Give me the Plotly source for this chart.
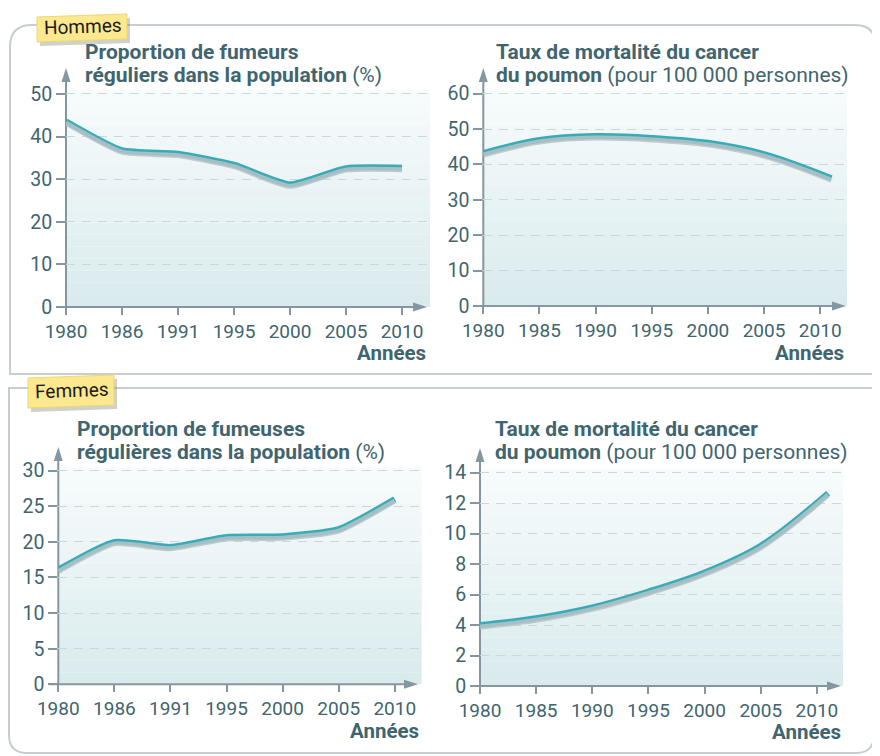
import plotly.graph_objects as go

# page body has an 8px margin: the figure covers viewport pixels 8..880 / 8..756
OFF = 8
W, H = 880 - OFF, 756 - OFF

# ---------------- data ----------------
cat_years = ["1980", "1986", "1991", "1995", "2000", "2005", "2010"]
men_smokers = [43.6, 36.8, 36.0, 33.4, 28.8, 32.6, 32.7]

lin_years = [1980, 1985, 1990, 1995, 2000, 2005, 2011]
men_mortality = [43.2, 46.9, 48.0, 47.5, 46.1, 42.9, 36.1]

women_smokers = [16.1, 20.0, 19.3, 20.7, 20.8, 21.8, 26.0]

women_mortality = [4.0, 4.45, 5.16, 6.2, 7.45, 9.2, 12.65]

men_y_ticks = [0, 10, 20, 30, 40, 50]
men_mort_ticks = [0, 10, 20, 30, 40, 50, 60]
women_y_ticks = [0, 5, 10, 15, 20, 25, 30]
women_mort_ticks = [0, 2, 4, 6, 8, 10, 12, 14]
lin_ticks = [1980, 1985, 1990, 1995, 2000, 2005, 2010]

# ---------------- style ----------------
TEAL = "#38abb9"
SHADOW = "#b9c3c6"
AXIS = "#8497a0"
TXT = "#40656f"
GRID = "#cdd6d9"
FONT = "Roboto"


def px(x):
    return (x - OFF) / W


def py(y):
    return 1 - (y - OFF) / H


def path(cmds):
    s = ""
    for c in cmds:
        if c[0] in ("M", "L"):
            s += f"{c[0]} {px(c[1]):.5f},{py(c[2]):.5f} "
        elif c[0] == "Q":
            s += f"Q {px(c[1]):.5f},{py(c[2]):.5f} {px(c[3]):.5f},{py(c[4]):.5f} "
        elif c[0] == "Z":
            s += "Z"
    return s


fig = go.Figure()
shapes = []
annotations = []

# panel definitions in reference pixel space (layout only)
panels = [
    dict(ax="", xdom=(66, 430), ydom=(307, 89.7), yr=(0, 51), ppu=4.26,
         origin=(66, 307), ytip=68, xtip=427),
    dict(ax="2", xdom=(483.3, 847), ydom=(306, 90.1), yr=(0, 61), ppu=3.54,
         origin=(483.3, 306), ytip=68, xtip=846),
    dict(ax="3", xdom=(58.3, 421.7), ydom=(684.3, 467.1), yr=(0, 30.5), ppu=7.12,
         origin=(58.3, 684.3), ytip=447, xtip=418),
    dict(ax="4", xdom=(480, 843), ydom=(686, 468.8), yr=(0, 14.25), ppu=15.24,
         origin=(480, 686), ytip=448, xtip=841),
]

series = [
    (cat_years, men_smokers, men_y_ticks, True, 0.55),
    (lin_years, men_mortality, men_mort_ticks, False, 1.0),
    (cat_years, women_smokers, women_y_ticks, True, 0.55),
    (lin_years, women_mortality, women_mort_ticks, False, 1.0),
]

for i, (p, (xs, ys, yt, is_cat, smooth)) in enumerate(zip(panels, series)):
    a = p["ax"]
    xa = "xaxis" + a
    ya = "yaxis" + a
    xid = "x" + a
    yid = "y" + a
    sh_ax_num = 5 + i
    sh_ya = f"yaxis{sh_ax_num}"
    sh_yid = f"y{sh_ax_num}"

    off = 2.0 / p["ppu"]  # shadow 2 px lower
    xdom = [px(p["xdom"][0]), px(p["xdom"][1])]
    ydom = [py(p["ydom"][0]), py(p["ydom"][1])]

    if is_cat:
        xcfg = dict(type="category", range=[0, 6.48 if i == 2 else 6.5],
                    categoryorder="array", categoryarray=cat_years)
    else:
        xcfg = dict(type="linear", range=[1980, 1980 + (p["xdom"][1] - p["xdom"][0]) / 11.23],
                    tickvals=lin_ticks)
    xcfg.update(domain=xdom, anchor=yid, showgrid=False, zeroline=False, showline=False,
                ticks="outside", ticklen=7, tickwidth=1.5, tickcolor=AXIS, automargin=False,
                tickfont=dict(family=FONT, size=19, color=TXT), fixedrange=True)
    fig.layout[xa] = xcfg

    fig.layout[ya] = dict(domain=ydom, anchor=xid, range=list(p["yr"]), tickvals=yt,
                          showgrid=True, gridcolor=GRID, gridwidth=1, griddash="9px,7px",
                          zeroline=False, showline=False, ticks="outside", ticklen=9,
                          tickwidth=1.5, tickcolor=AXIS, automargin=False,
                          tickfont=dict(family=FONT, size=19.5, color=TXT), fixedrange=True)
    fig.layout[sh_ya] = dict(overlaying=yid, anchor=xid, automargin=False,
                             range=[p["yr"][0] + off, p["yr"][1] + off], visible=False)

    fig.add_trace(go.Scatter(x=xs, y=ys, xaxis=xid, yaxis=sh_yid, mode="lines",
                             line=dict(color=SHADOW, width=5, shape="spline", smoothing=smooth),
                             hoverinfo="skip", showlegend=False, opacity=0.85))
    fig.add_trace(go.Scatter(x=xs, y=ys, xaxis=xid, yaxis=yid, mode="lines",
                             line=dict(color=TEAL, width=6, shape="spline", smoothing=smooth),
                             showlegend=False))

    # gradient background
    nb = 18
    top_c = (248, 251, 252)
    bot_c = (217, 235, 237)
    for k in range(nb):
        t = (k + 0.5) / nb
        c = tuple(int(round(top_c[j] + (bot_c[j] - top_c[j]) * t)) for j in range(3))
        shapes.append(dict(type="rect", xref=xid + " domain", yref=yid + " domain",
                           x0=0, x1=1, y0=1 - (k + 1) / nb, y1=1 - k / nb,
                           fillcolor=f"rgb{c}", line=dict(width=0), layer="below"))

    ox, oy = p["origin"]
    # y axis line + arrow
    shapes.append(dict(type="line", xref="paper", yref="paper", x0=px(ox), y0=py(oy),
                       x1=px(ox), y1=py(p["ytip"] + 10), line=dict(color=AXIS, width=2),
                       layer="between"))
    shapes.append(dict(type="path", xref="paper", yref="paper",
                       path=path([("M", ox, p["ytip"]), ("L", ox - 4.5, p["ytip"] + 14),
                                  ("L", ox + 4.5, p["ytip"] + 14), ("Z",)]),
                       fillcolor=AXIS, line=dict(width=0), layer="between"))
    # x axis line + arrow
    shapes.append(dict(type="line", xref="paper", yref="paper", x0=px(ox - 9), y0=py(oy),
                       x1=px(p["xtip"] - 10), y1=py(oy), line=dict(color=AXIS, width=2),
                       layer="between"))
    shapes.append(dict(type="path", xref="paper", yref="paper",
                       path=path([("M", p["xtip"], oy), ("L", p["xtip"] - 14, oy - 4.5),
                                  ("L", p["xtip"] - 14, oy + 4.5), ("Z",)]),
                       fillcolor=AXIS, line=dict(width=0), layer="between"))

# ---------------- boxes ----------------
BOX = "#c6ced1"
shapes.append(dict(type="path", xref="paper", yref="paper",
                   path=path([("M", 10, 374), ("L", 10, 47), ("Q", 10, 25, 32, 25),
                              ("L", 855, 25), ("Q", 876, 25, 876, 47), ("L", 876, 374), ("Z",)]),
                   line=dict(color=BOX, width=2), fillcolor="rgba(0,0,0,0)", layer="below"))
shapes.append(dict(type="path", xref="paper", yref="paper",
                   path=path([("M", 9, 388), ("L", 874, 388), ("L", 874, 735),
                              ("Q", 874, 753, 856, 753), ("L", 27, 753),
                              ("Q", 9, 753, 9, 735), ("Z",)]),
                   line=dict(color=BOX, width=2), fillcolor="rgba(0,0,0,0)", layer="below"))


# labels (tilted yellow tags)
def tag(x0, y0, x1, y1, tilt):
    shapes.append(dict(type="path", xref="paper", yref="paper",
                       path=path([("M", x0 + 3, y0 + tilt + 4), ("L", x1 + 3, y0 + 4),
                                  ("L", x1 + 3, y1 + 4), ("L", x0 + 3, y1 + tilt + 4), ("Z",)]),
                       fillcolor="rgba(120,120,110,0.35)", line=dict(width=0), layer="above"))
    shapes.append(dict(type="path", xref="paper", yref="paper",
                       path=path([("M", x0, y0 + tilt), ("L", x1, y0),
                                  ("L", x1, y1), ("L", x0, y1 + tilt), ("Z",)]),
                       fillcolor="#fbe88f", line=dict(color="#efd870", width=1), layer="above"))


tag(37, 14, 127, 39, 3)
tag(28, 375, 114, 405, 3)

annotations.append(dict(text="Hommes", xref="paper", yref="paper", x=px(83), y=py(27),
                        showarrow=False, textangle=-2,
                        font=dict(family=FONT, size=19, color="#1c1c1c"),
                        xanchor="center", yanchor="middle"))
annotations.append(dict(text="Femmes", xref="paper", yref="paper", x=px(72), y=py(390),
                        showarrow=False, textangle=-2,
                        font=dict(family=FONT, size=19, color="#1c1c1c"),
                        xanchor="center", yanchor="middle"))

# ---------------- titles ----------------
titles = [
    (83, 52, "<b>Proportion de fumeurs</b>"),
    (83, 75, "<b>réguliers dans la population</b> (%)"),
    (494, 52, "<b>Taux de mortalité du cancer</b>"),
    (494, 75, "<b>du poumon</b> (pour 100 000 personnes)"),
    (75, 429, "<b>Proportion de fumeuses</b>"),
    (75, 452, "<b>régulières dans la population</b> (%)"),
    (493, 429, "<b>Taux de mortalité du cancer</b>"),
    (493, 452, "<b>du poumon</b> (pour 100 000 personnes)"),
]
for x, y, t in titles:
    annotations.append(dict(text=t, xref="paper", yref="paper", x=px(x), y=py(y),
                            showarrow=False, xanchor="left", yanchor="middle",
                            font=dict(family=FONT, size=21, color=TXT)))

for x, y in [(428, 353), (846, 353), (421, 731), (843, 732)]:
    annotations.append(dict(text="<b>Années</b>", xref="paper", yref="paper",
                            x=px(x), y=py(y), showarrow=False, xanchor="right",
                            yanchor="middle", font=dict(family=FONT, size=20.5, color=TXT)))

fig.update_layout(width=W, height=H, margin=dict(l=0, r=0, t=0, b=0, autoexpand=False),
                  paper_bgcolor="white", plot_bgcolor="rgba(0,0,0,0)",
                  shapes=shapes, annotations=annotations, showlegend=False)

fig.write_html("out.html")
